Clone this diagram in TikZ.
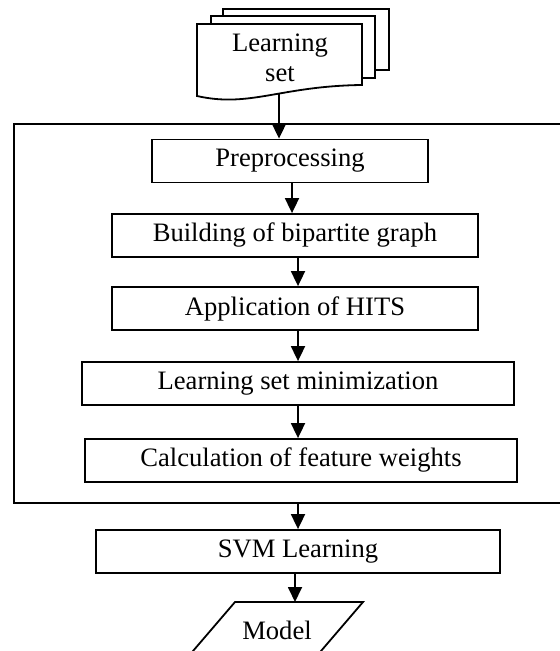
\documentclass[tikz,border=0pt]{standalone}
\usepackage{fontspec}
\setmainfont{Liberation Serif}
\usetikzlibrary{arrows.meta}
\tikzset{
  stage/.style={rectangle, draw, line width=0.9pt, minimum height=21.5pt, inner sep=0pt, text centered},
  sheet/.style={draw, line width=0.9pt, fill=white},
  arrow/.style={line width=0.9pt, -{Triangle[length=7.5pt,width=7pt]}}
}

\begin{document}
\begin{tikzpicture}[x=0.5pt, y=-0.5pt, font=\fontsize{13.3}{15}\selectfont]
  \useasboundingbox (0,0) rectangle (560,651);
  \clip (0,0) rectangle (560,651);

  % Learning set
  \draw[sheet] (223,9) rectangle (389,70);
  \draw[sheet] (211,16) rectangle (375,78);
  \draw[sheet] (197,24) -- (362,24) -- (362,85) .. controls (280,86) and (250,108) .. (197,96) -- cycle;
  \node (lset) [align=center] at (280,58) {Learning\\set};
  \coordinate (lsetend) at (279,94);

  % Frame
  \node (frame) [rectangle, draw, line width=0.9pt, minimum width=293pt, minimum height=189.5pt] at (307,313.5) {};

  % Stages
  \node (prep) [stage, minimum width=138pt] at (290,161) {Preprocessing};
  \node (graph) [stage, minimum width=183pt] at (295,235.5) {Building of bipartite graph};
  \node (hits) [stage, minimum width=183pt] at (295,308.5) {Application of HITS};
  \node (minim) [stage, minimum width=216pt] at (298,383.5) {Learning set minimization};
  \node (weights) [stage, minimum width=216pt] at (301,460.5) {Calculation of feature weights};
  \node (svm) [stage, minimum width=202pt] at (298,551.5) {SVM Learning};

  % Model
  \draw[line width=0.9pt] (235,602) -- (363,602) -- (309,665) -- (181,665) -- cycle;
  \node (model) at (277,630) {Model};
  \coordinate (modeltop) at (295,602);

  % Arrows
  \draw [arrow] (lsetend) -- (lsetend |- prep.north);
  \draw [arrow] ([xshift=1pt]prep.south) -- ([xshift=1pt]prep.south |- graph.north);
  \draw [arrow] ([xshift=1.5pt]graph.south) -- ([xshift=1.5pt]graph.south |- hits.north);
  \draw [arrow] ([xshift=1.5pt]hits.south) -- ([xshift=1.5pt]hits.south |- minim.north);
  \draw [arrow] (minim.south) -- (minim.south |- weights.north);
  \draw [arrow] (svm.north |- frame.south) -- (svm.north);
  \draw [arrow] (svm.south -| modeltop) -- (modeltop);
\end{tikzpicture}
\end{document}
